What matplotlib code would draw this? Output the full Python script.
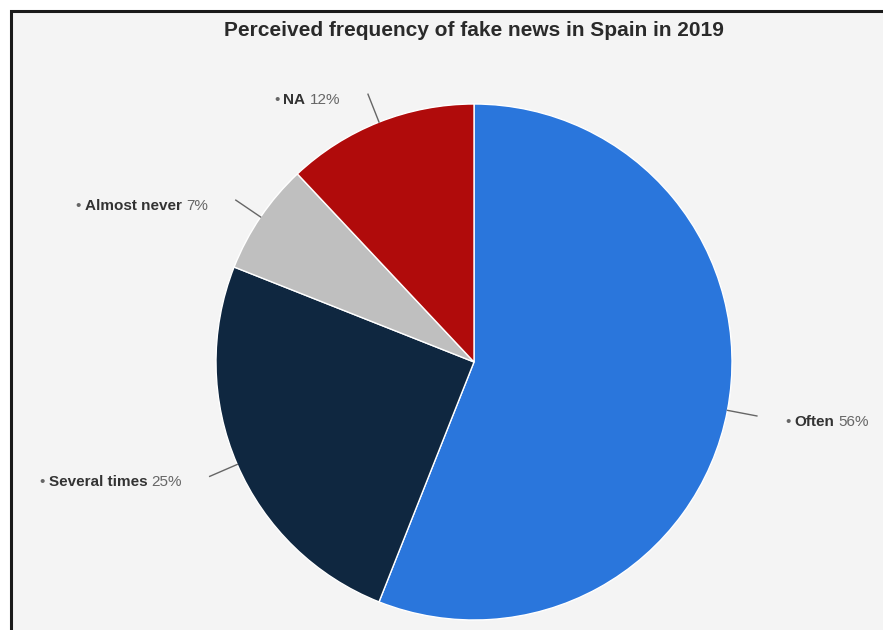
import numpy as np
import matplotlib
matplotlib.use('Agg')
import matplotlib.pyplot as plt
from matplotlib.patches import Rectangle

W, H = 883, 630

TITLE = 'Perceived frequency of fake news in Spain in 2019'
categories = ['Often', 'Several times', 'Almost never', 'NA']
shares = [56, 25, 7, 12]
colors = ['#2a76dc', '#0f2740', '#bfbfbf', '#b00b0b']

CX, CY, R = 474, 362, 258
R_LEAD = 288
LABEL_GAP = 28
LABEL_DROP = 6

plt.rcParams['font.family'] = ['Liberation Sans', 'DejaVu Sans']

fig = plt.figure(figsize=(W / 100, H / 100), dpi=100, facecolor='white')
ax = fig.add_axes([0, 0, 1, 1])

# y axis runs downward so coordinates read like pixels
wedges, _ = ax.pie(shares, colors=colors, startangle=-90, counterclock=True,
                   center=(CX, CY), radius=R,
                   wedgeprops=dict(edgecolor='white', linewidth=1))
ax.set_xlim(0, W)
ax.set_ylim(H, 0)
ax.set_aspect('equal')
ax.axis('off')

# panel with dark frame on top and left
panel = Rectangle((10.5, 11), W + 20, H + 20, facecolor='#f4f4f4',
                  edgecolor='#1a1a1a', linewidth=2.2, zorder=0)
ax.add_patch(panel)

ax.text(CX, 31, TITLE, ha='center', va='center', fontsize=15,
        fontweight='bold', color='#2a2a2a')

fig.canvas.draw()
renderer = fig.canvas.get_renderer()


def width_of(t):
    return t.get_window_extent(renderer).width


FS = 11
for w, name, val in zip(wedges, categories, shares):
    mid = np.deg2rad((w.theta1 + w.theta2) / 2)
    c, s = np.cos(mid), np.sin(mid)
    x0, y0 = CX + R * c, CY + R * s
    x1, y1 = CX + R_LEAD * c, CY + R_LEAD * s
    ax.plot([x0, x1], [y0, y1], color='#666666', lw=1, zorder=1)

    y = y1 + LABEL_DROP
    pieces = [('\u2022', 'normal', '#666666'),
              (name, 'bold', '#333333'),
              ('%d%%' % val, 'normal', '#666666')]
    if c >= 0:
        x = x1 + LABEL_GAP
        for txt, weight, col in pieces:
            t = ax.text(x, y, txt, ha='left', va='center', fontsize=FS,
                        fontweight=weight, color=col)
            x += width_of(t) + 4
    else:
        x = x1 - LABEL_GAP
        for txt, weight, col in reversed(pieces):
            t = ax.text(x, y, txt, ha='right', va='center', fontsize=FS,
                        fontweight=weight, color=col)
            x -= width_of(t) + 4

fig.savefig('out.png', dpi=100, facecolor='white')
